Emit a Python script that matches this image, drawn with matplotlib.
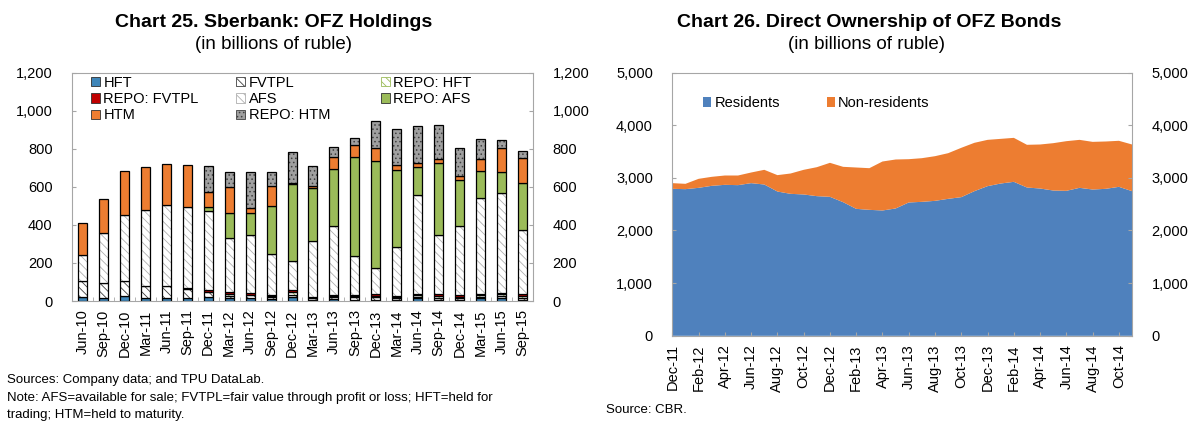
import matplotlib.pyplot as plt
import numpy as np
import pandas as pd
from matplotlib.patches import Patch
from matplotlib.ticker import FuncFormatter, MultipleLocator

plt.rcParams['font.family'] = ['Liberation Sans', 'DejaVu Sans']
plt.rcParams['hatch.linewidth'] = 0.6

# ------------------------------------------------------------------
# Chart 25 data: Sberbank OFZ holdings (billions of rubles)
# ------------------------------------------------------------------
quarters = ['Jun-10', 'Sep-10', 'Dec-10', 'Mar-11', 'Jun-11', 'Sep-11', 'Dec-11',
            'Mar-12', 'Jun-12', 'Sep-12', 'Dec-12', 'Mar-13', 'Jun-13', 'Sep-13',
            'Dec-13', 'Mar-14', 'Jun-14', 'Sep-14', 'Dec-14', 'Mar-15', 'Jun-15',
            'Sep-15']
hft = [20, 18, 28, 18, 18, 14, 19, 14, 17, 10, 21, 5, 12, 8, 8, 5, 15, 5, 5, 14, 14, 5]
fvtpl = [85, 79, 77, 59, 59, 49, 30, 12, 15, 10, 12, 10, 8, 12, 12, 10, 8, 12, 10, 8, 10, 12]
repo_hft = [0, 0, 0, 0, 0, 0, 0, 12, 0, 8, 15, 0, 5, 8, 5, 5, 8, 8, 8, 10, 12, 8]
repo_fvtpl = [0, 0, 0, 0, 0, 5, 11, 10, 12, 4, 10, 8, 5, 5, 10, 8, 4, 10, 8, 6, 8, 10]
afs = [139, 259, 349, 399, 429, 426, 413, 283, 301, 217, 151, 294, 362, 205, 138, 256,
       520, 312, 361, 505, 522, 340]
repo_afs = [0, 0, 0, 0, 0, 0, 23, 133, 119, 249, 403, 277, 300, 519, 563, 406, 151,
            377, 242, 138, 109, 243]
htm = [168, 178, 229, 228, 214, 221, 74, 133, 23, 108, 10, 12, 65, 60, 65, 23, 19, 21,
       21, 65, 126, 133]
repo_htm = [0, 0, 0, 0, 0, 0, 139, 78, 191, 69, 161, 105, 52, 38, 143, 191, 194, 177,
            151, 107, 47, 39]

# ------------------------------------------------------------------
# Chart 26 data: direct ownership of OFZ bonds, monthly Dec-11 .. Nov-14
# ------------------------------------------------------------------
residents = [2791, 2785, 2810, 2848, 2867, 2861, 2899, 2873, 2740, 2696, 2684, 2652,
             2639, 2538, 2411, 2392, 2380, 2418, 2532, 2544, 2563, 2601, 2633, 2747,
             2842, 2892, 2924, 2816, 2797, 2759, 2753, 2810, 2778, 2791, 2829, 2747]
total = [2899, 2886, 2981, 3019, 3044, 3044, 3101, 3152, 3051, 3082, 3152, 3202,
         3285, 3209, 3196, 3183, 3310, 3348, 3354, 3373, 3411, 3468, 3570, 3665,
         3721, 3740, 3759, 3627, 3633, 3658, 3696, 3721, 3683, 3690, 3703, 3633]
non_residents = [t - r for t, r in zip(total, residents)]
months = pd.date_range('2011-12-01', periods=len(residents), freq='MS')

BLUE = '#3f86b9'
ORANGE = '#ed7d31'
GREEN = '#9bbb59'
RED = '#c00000'
FRAME = '#a6a6a6'

fmt = FuncFormatter(lambda v, p: f"{v:,.0f}")

fig = plt.figure(figsize=(11.9, 4.24), dpi=100)

# ------------------------------------------------------------------
# Left panel: stacked bars
# ------------------------------------------------------------------
ax1 = fig.add_axes([0.0605, 0.29, 0.3874, 0.539])
x = np.arange(len(quarters))
width = 0.43

# (label, values, face colour, hatch, hatch colour)
series = [
    ('HFT', hft, BLUE, None, BLUE),
    ('FVTPL', fvtpl, 'white', '\\\\\\\\', '#404040'),
    ('REPO: HFT', repo_hft, 'white', '\\\\\\\\', '#9bbb59'),
    ('REPO: FVTPL', repo_fvtpl, RED, None, RED),
    ('AFS', afs, 'white', '\\\\\\\\', '#b0b0b0'),
    ('REPO: AFS', repo_afs, GREEN, None, GREEN),
    ('HTM', htm, ORANGE, None, ORANGE),
    ('REPO: HTM', repo_htm, '#a0a0a0', '....', '#404040'),
]

bottom = np.zeros(len(x))
handles = []
for label, vals, fc, hatch, hc in series:
    vals = np.array(vals, dtype=float)
    keep = vals > 0
    ax1.bar(x[keep], vals[keep], width, bottom=bottom[keep], color=fc,
            hatch=hatch, edgecolor=hc, linewidth=0)
    ax1.bar(x[keep], vals[keep], width, bottom=bottom[keep], fill=False,
            edgecolor='black', linewidth=0.9)
    bottom += vals
    handles.append(Patch(facecolor=fc, hatch=hatch, edgecolor=hc if hatch else '#303030',
                         linewidth=0.6, label=label))

ax1.set_xlim(-0.5, len(x) - 0.5)
ax1.set_ylim(0, 1200)
ax1.yaxis.set_major_locator(MultipleLocator(200))
ax1.yaxis.set_major_formatter(fmt)
ax1.set_xticks(x)
ax1.set_xticklabels(quarters, rotation=90)
ax1.set_xticks(np.arange(-0.5, len(x), 1), minor=True)
ax1.tick_params(axis='x', which='major', length=0, labelsize=10.5, pad=6)
ax1.tick_params(axis='x', which='minor', direction='in', length=3, color=FRAME)
ax1.tick_params(axis='y', direction='in', length=3, color=FRAME, labelsize=10.5,
                left=True, right=True, labelleft=True, labelright=True, pad=14)
for s in ax1.spines.values():
    s.set_color(FRAME)

# legend laid out row by row, one legend per column
col_x = [0.041, 0.356, 0.670]
for c, cx in enumerate(col_x):
    leg = ax1.legend(handles=handles[c::3], loc='upper left', bbox_to_anchor=(cx, 0.985),
                     frameon=False, fontsize=10.5, handlelength=0.6, handleheight=0.6,
                     handletextpad=0.25, labelspacing=0.15, borderpad=0, borderaxespad=0)
    if c < len(col_x) - 1:
        ax1.add_artist(leg)

fig.text(0.23, 0.948, 'Chart 25. Sberbank: OFZ Holdings', ha='center', va='center',
         fontsize=14, fontweight='bold')
fig.text(0.23, 0.896, '(in billions of ruble)', ha='center', va='center', fontsize=13.5)

fig.text(0.006, 0.103, 'Sources: Company data; and TPU DataLab.', fontsize=9.5, va='center')
fig.text(0.006, 0.061, 'Note: AFS=available for sale; FVTPL=fair value through profit or loss; '
         'HFT=held for', fontsize=9.5, va='center')
fig.text(0.006, 0.021, 'trading; HTM=held to maturity.', fontsize=9.5, va='center')

# ------------------------------------------------------------------
# Right panel: stacked area
# ------------------------------------------------------------------
ax2 = fig.add_axes([0.565, 0.208, 0.3863, 0.621])
t = np.arange(len(months))
ax2.stackplot(t, residents, non_residents, colors=['#4f81bd', ORANGE],
              labels=['Residents', 'Non-residents'], linewidth=0)
ax2.set_xlim(0, len(t) - 1)
ax2.set_ylim(0, 5000)
ax2.yaxis.set_major_locator(MultipleLocator(1000))
ax2.yaxis.set_major_formatter(fmt)
ax2.set_xticks(t[::2])
ax2.set_xticklabels([m.strftime('%b-%y') for m in months[::2]], rotation=90)
ax2.tick_params(axis='x', direction='in', length=3, color=FRAME, labelsize=10.5, pad=6)
ax2.tick_params(axis='y', direction='in', length=3, color=FRAME, labelsize=10.5,
                left=True, right=True, labelleft=True, labelright=True, pad=14)
for s in ax2.spines.values():
    s.set_color(FRAME)

ax2.legend(ncol=2, loc='upper left', bbox_to_anchor=(0.066, 0.91), frameon=False,
           fontsize=10.5, handlelength=0.6, handleheight=0.6, handletextpad=0.2,
           columnspacing=3.2, borderpad=0, borderaxespad=0)

fig.text(0.730, 0.948, 'Chart 26. Direct Ownership of OFZ Bonds', ha='center', va='center',
         fontsize=14, fontweight='bold')
fig.text(0.728, 0.896, '(in billions of ruble)', ha='center', va='center', fontsize=13.5)
fig.text(0.509, 0.032, 'Source: CBR.', fontsize=9.5, va='center')

fig.savefig('out.png', dpi=100)
